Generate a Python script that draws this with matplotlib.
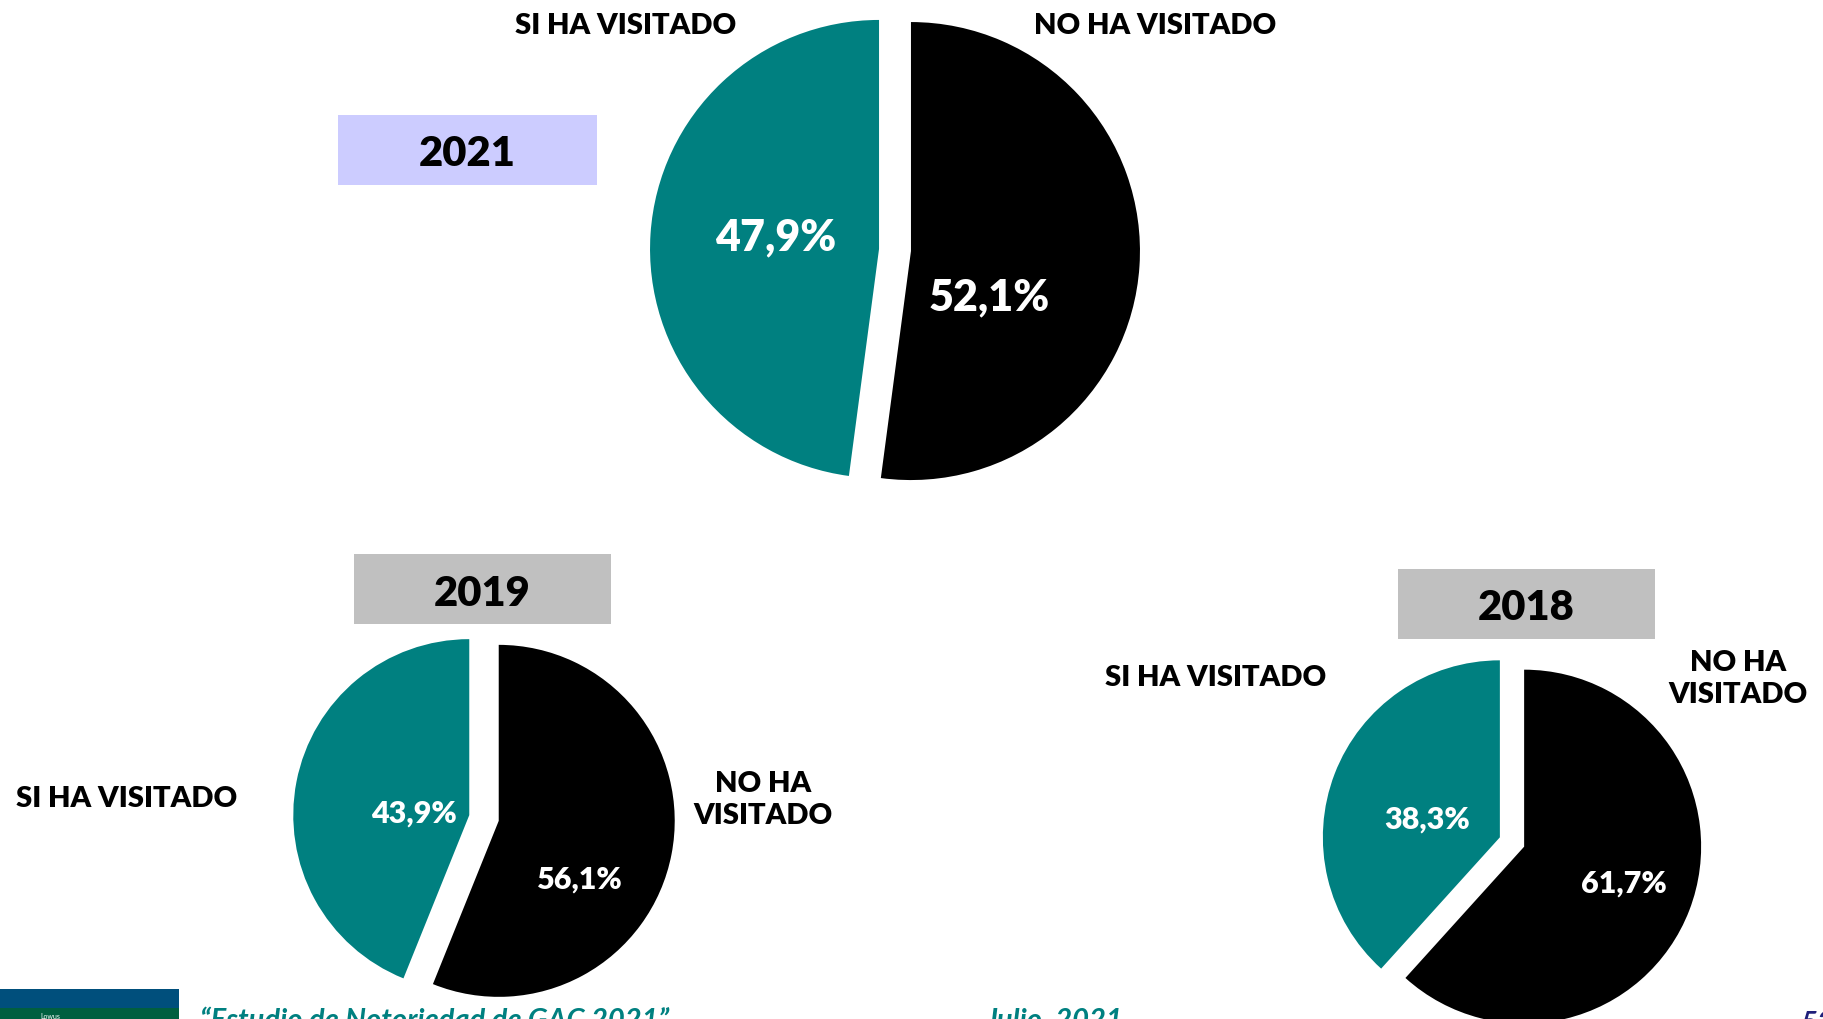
import matplotlib.pyplot as plt
from matplotlib.patches import Rectangle

# ==============================================================================
# Data
# ==============================================================================
years = ['2021', '2019', '2018']
no_visitado = [52.1, 56.1, 61.7]
si_visitado = [47.9, 43.9, 38.3]
label_si = 'SI HA VISITADO'
label_no = 'NO HA VISITADO'
label_no_2l = 'NO HA\nVISITADO'
footer_title = '\u201cEstudio de Notoriedad de GAC 2021\u201d'
footer_date = 'Julio, 2021'
page_number = '53'

# ==============================================================================
# Chart variables (pixel layout, y measured from the top)
# ==============================================================================
W, H = 1824, 1020
teal = '#008080'
black = '#000000'
font = 'Lato'
weight = 'heavy'

# pie centre x, centre y, radius, explode (px), label font size
pies = [
    (895, 251, 229, 16, 31),
    (484, 819, 176, 15, 22),
    (1512, 843, 177, 13, 22),
]
# year box: x0, y0, width, height, colour
boxes = [
    (338, 116, 259, 70, '#CCCCFF'),
    (354, 555, 257, 70, '#C0C0C0'),
    (1398, 570, 257, 70, '#C0C0C0'),
]
# percentage label positions: (no, si)
pct_pos = [
    ((989, 294), (776, 234)),
    ((580, 877), (414, 811)),
    ((1624, 881), (1427, 817)),
]


def Y(y):
    return H - y


def fmt(v):
    return '{:.1f}%'.format(v).replace('.', ',')


fig = plt.figure(figsize=(W / 100, H / 100), dpi=100)
fig.patch.set_facecolor('white')
ax = fig.add_axes([0, 0, 1, 1])

for i, year in enumerate(years):
    cx, cy, r, ex, fs = pies[i]
    # explode is added to the centre unscaled, so it is given in pixels
    ax.pie([no_visitado[i], si_visitado[i]], colors=[black, teal],
           startangle=90, counterclock=False, explode=(ex, ex),
           center=(cx, Y(cy)), radius=r,
           wedgeprops=dict(linewidth=0))
    x0, y0, bw, bh, bc = boxes[i]
    ax.add_patch(Rectangle((x0, Y(y0 + bh)), bw, bh, facecolor=bc, edgecolor='none'))
    ax.text(x0 + bw / 2, Y(y0 + bh / 2), year, ha='center', va='center_baseline',
            fontsize=30, fontweight=weight, family=font, color='black')
    (nx, ny), (sx, sy) = pct_pos[i]
    ax.text(nx, Y(ny), fmt(no_visitado[i]), ha='center', va='center_baseline',
            fontsize=fs, fontweight=weight, family=font, color='white')
    ax.text(sx, Y(sy), fmt(si_visitado[i]), ha='center', va='center_baseline',
            fontsize=fs, fontweight=weight, family=font, color='white')

# category labels
lab = dict(fontsize=21, fontweight=weight, family=font, color='black',
           ha='center', va='center_baseline', linespacing=1.3)
ax.text(626, Y(24), label_si, **lab)
ax.text(1155, Y(24), label_no, **lab)
ax.text(127, Y(797), label_si, **lab)
ax.text(763, Y(800), label_no_2l, **dict(lab, va='center'))
ax.text(1216, Y(675), label_si, **lab)
ax.text(1738, Y(679), label_no_2l, **dict(lab, va='center'))

# footer (cut by the bottom edge of the slide, as in the source)
ax.add_patch(Rectangle((0, Y(1009)), 179, 19, facecolor='#004F7C', edgecolor='none'))
ax.add_patch(Rectangle((0, 0), 179, Y(1009), facecolor='#005F3F', edgecolor='none'))
ax.text(40, Y(1013), 'Lowus', fontsize=5, color='white', va='top', family=font)
ax.text(200, Y(1008), footer_title, fontsize=21, fontweight='bold', style='italic',
        family=font, color=teal, ha='left', va='top')
ax.text(986, Y(1008), footer_date, fontsize=21, fontweight='bold', style='italic',
        family=font, color=teal, ha='left', va='top')
ax.text(1800, Y(1011), page_number, fontsize=21, fontweight='bold', style='italic',
        family=font, color='#1F1F7A', ha='left', va='top')

ax.set_xlim(0, W)
ax.set_ylim(0, H)
ax.set_aspect('auto')
ax.axis('off')

fig.savefig('out.png', dpi=100)
